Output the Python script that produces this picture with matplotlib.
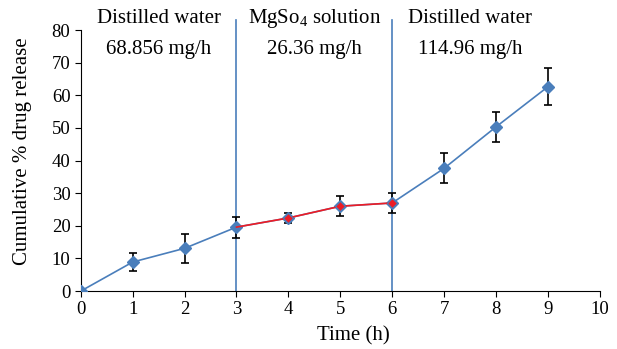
import matplotlib.pyplot as plt

time_h = [0, 1, 2, 3, 4, 5, 6, 7, 8, 9]
release = [0, 8.9, 13.1, 19.6, 22.4, 26.0, 27.0, 37.6, 50.3, 62.6]
err = [0, 2.8, 4.5, 3.2, 1.4, 3.0, 3.0, 4.6, 4.5, 5.7]

phase_x = [1.5, 4.5, 7.5]
phase_names = ['Distilled water', 'MgSo$_4$ solution', 'Distilled water']
phase_rates = ['68.856 mg/h', '26.36 mg/h', '114.96 mg/h']
boundaries = [3, 6]

plt.rcParams['font.family'] = ['Liberation Serif', 'DejaVu Serif']
plt.rcParams['mathtext.fontset'] = 'custom'
plt.rcParams['mathtext.rm'] = 'Liberation Serif'
plt.rcParams['mathtext.it'] = 'Liberation Serif:italic'

blue = '#4a7ebb'
red = '#ee1c25'

fig = plt.figure(figsize=(6.17, 3.49), dpi=100)
ax = fig.add_axes([0.131, 0.166, 0.841, 0.748])

ax.errorbar(time_h, release, yerr=err, fmt='none', ecolor='black',
            elinewidth=1.2, capsize=3, capthick=1.2, zorder=2)
ax.plot(time_h, release, color=blue, lw=1.2, marker='D', ms=6,
        mfc=blue, mec=blue, zorder=3)
ax.plot(time_h[3:7], release[3:7], color=red, lw=1.2, zorder=4)
ax.plot(time_h[4:7], release[4:7], ls='none', marker='D', ms=5,
        mfc=red, mec=blue, mew=0.8, zorder=5)

for b in boundaries:
    ax.plot([b, b], [0, 83], color=blue, lw=1.2, clip_on=False, zorder=1)

for x, name, rate in zip(phase_x, phase_names, phase_rates):
    ax.text(x, 83.5, name, ha='center', va='center', fontsize=15)
    ax.text(x, 74, rate, ha='center', va='center', fontsize=15)

ax.set_xlim(0, 10)
ax.set_ylim(0, 80)
ax.set_xticks(range(0, 11))
ax.set_yticks(range(0, 81, 10))
ax.spines['top'].set_visible(False)
ax.spines['right'].set_visible(False)
ax.tick_params(direction='out', labelsize=13.5, length=4)
ax.set_xlabel('Time (h)', fontsize=15)
ax.set_ylabel('Cumulative % drug release', fontsize=15)
ax.xaxis.set_label_coords(0.525, -0.135)
ax.yaxis.set_label_coords(-0.095, 0.536)

fig.savefig('out.png', dpi=100)
